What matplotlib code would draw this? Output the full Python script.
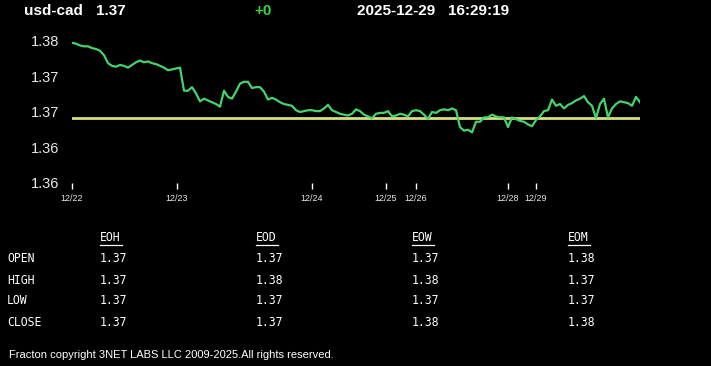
import matplotlib
matplotlib.use("Agg")
import matplotlib.pyplot as plt
from matplotlib.lines import Line2D
import numpy as np

# ---- data ----
symbol = "usd-cad"
last_price = "1.37"
change = "+0"
stamp = "2025-12-29   16:29:19"

prices = [
    1.3758, 1.3757, 1.3755, 1.3754, 1.3754, 1.3752, 1.3751, 1.3749, 1.3744, 1.3735,
    1.3732, 1.3731, 1.3733, 1.3732, 1.3730, 1.3733, 1.3736, 1.3738, 1.3736, 1.3737,
    1.3735, 1.3734, 1.3732, 1.3730, 1.3727, 1.3728, 1.3729, 1.3730, 1.3704, 1.3704,
    1.3708, 1.3701, 1.3692, 1.3695, 1.3693, 1.3691, 1.3689, 1.3686, 1.3704, 1.3697,
    1.3695, 1.3703, 1.3712, 1.3714, 1.3714, 1.3707, 1.3708, 1.3708, 1.3703, 1.3694,
    1.3696, 1.3694, 1.3691, 1.3689, 1.3688, 1.3687, 1.3682, 1.3680, 1.3681, 1.3682,
    1.3682, 1.3681, 1.3681, 1.3684, 1.3688, 1.3682, 1.3680, 1.3678, 1.3677, 1.3676,
    1.3678, 1.3683, 1.3681, 1.3677, 1.3675, 1.3673, 1.3678, 1.3679, 1.3679, 1.3681,
    1.3675, 1.3676, 1.3678, 1.3677, 1.3675, 1.3681, 1.3682, 1.3681, 1.3677, 1.3672,
    1.3680, 1.3679, 1.3682, 1.3683, 1.3682, 1.3684, 1.3682, 1.3663, 1.3659, 1.3660,
    1.3657, 1.3669, 1.3669, 1.3674, 1.3674, 1.3677, 1.3675, 1.3674, 1.3674, 1.3663,
    1.3674, 1.3672, 1.3670, 1.3669, 1.3666, 1.3664, 1.3671, 1.3675, 1.3681, 1.3682,
    1.3694, 1.3687, 1.3689, 1.3684, 1.3688, 1.3690, 1.3693, 1.3695, 1.3698, 1.3691,
    1.3687, 1.3673, 1.3689, 1.3695, 1.3674, 1.3684, 1.3689, 1.3692, 1.3691, 1.3690,
    1.3687, 1.3697, 1.3691,
]
ref_level = 1.3673

date_labels = ["12/22", "12/23", "12/24", "12/25", "12/26", "12/28", "12/29"]
date_positions = [0, 26.25, 60, 78.5, 86, 109, 116]
y_ticks = [1.376, 1.372, 1.368, 1.364, 1.360]

col_headers = ["EOH", "EOD", "EOW", "EOM"]
row_labels = ["OPEN", "HIGH", "LOW", "CLOSE"]
table_values = [
    ["1.37", "1.37", "1.37", "1.38"],
    ["1.37", "1.38", "1.38", "1.37"],
    ["1.37", "1.37", "1.37", "1.37"],
    ["1.37", "1.37", "1.38", "1.38"],
]
footer = "Fracton copyright 3NET LABS LLC 2009-2025.All rights reserved."

# ---- figure ----
W, H = 711, 366
fig = plt.figure(figsize=(W / 100, H / 100), dpi=100, facecolor="black")

def fx(px):
    return px / W

def fy(py):
    return 1 - py / H

ax_left, ax_right, ax_top, ax_bottom = 72, 640, 35, 183
ax = fig.add_axes([fx(ax_left), fy(ax_bottom), fx(ax_right - ax_left), (ax_bottom - ax_top) / H])
ax.set_facecolor("black")
x = np.arange(len(prices))
ax.axhline(ref_level, color="#d6df80", lw=2.0, zorder=2)
ax.plot(x, prices, color="#45d36b", lw=1.6, zorder=3)
ax.set_xlim(0, len(prices) - 1)
ax.set_ylim(1.360, 1.360 + (1.376 - 1.360) * (ax_bottom - ax_top) / (183 - 41))
for s in ax.spines.values():
    s.set_visible(False)
ax.set_yticks(y_ticks)
ax.set_yticklabels([f"{v:.2f}" for v in y_ticks], fontsize=10.5,
                   color="#e8e8e8", family="Liberation Sans")
ax.tick_params(axis="y", length=0, pad=9)
ax.set_xticks(date_positions)
ax.set_xticklabels(date_labels, fontsize=6.5, color="#e8e8e8",
                   family="Liberation Sans")
ax.tick_params(axis="x", length=4, width=1, color="white", direction="out", pad=4)

# ---- header ----
hdr = dict(fontsize=11, fontweight="bold", family="Liberation Sans", va="center",
           transform=fig.transFigure)
fig.text(fx(24), fy(11), symbol, color="white", **hdr)
fig.text(fx(96), fy(11), last_price, color="white", **hdr)
fig.text(fx(254), fy(11), change, color="#3ad23a", **hdr)
fig.text(fx(357), fy(11), stamp, color="white", **hdr)

# ---- table ----
mono = dict(fontsize=8.3, family="DejaVu Sans Mono", color="white", va="center",
            transform=fig.transFigure)
col_x = [100, 256, 412, 568]
row_y = [259, 280, 301, 323]
for cx, h in zip(col_x, col_headers):
    fig.text(fx(cx), fy(238), h, **mono)
    fig.add_artist(Line2D([fx(cx), fx(cx + 22)], [fy(245), fy(245)],
                          color="white", lw=0.9, transform=fig.transFigure))
for ry, lab, vals in zip(row_y, row_labels, table_values):
    fig.text(fx(7), fy(ry), lab, **mono)
    for cx, v in zip(col_x, vals):
        fig.text(fx(cx), fy(ry), v, **mono)

fig.text(fx(9), fy(355), footer, fontsize=8, family="Liberation Sans", color="white",
         va="center", transform=fig.transFigure)

fig.savefig("out.png", dpi=100, facecolor="black")
